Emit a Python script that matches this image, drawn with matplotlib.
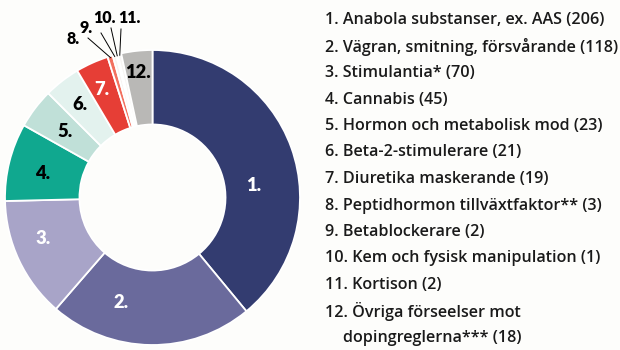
import numpy as np
import matplotlib
matplotlib.use('Agg')
import matplotlib.pyplot as plt

# dopingförseelser per kategori
categories = ['Anabola substanser, ex. AAS', 'Vägran, smitning, försvårande', 'Stimulantia*',
              'Cannabis', 'Hormon och metabolisk mod', 'Beta-2-stimulerare',
              'Diuretika maskerande', 'Peptidhormon tillväxtfaktor**', 'Betablockerare',
              'Kem och fysisk manipulation', 'Kortison', 'Övriga förseelser mot\ndopingreglerna***']
counts = [206, 118, 70, 45, 23, 21, 19, 3, 2, 1, 2, 18]
numbers = [f'{i}.' for i in range(1, len(counts) + 1)]

colors = ['#333c70', '#6a6a9c', '#a8a4c8', '#10a88f', '#c0e0d8', '#e3f2ee',
          '#e63e36', '#f2705f', '#f7f3f1', '#fbf9f8', '#f7f5f3', '#b9b8b6']
label_colors = ['white', 'white', 'white', 'black', 'black', 'black', 'white',
                'black', 'black', 'black', 'black', 'black']

bg = '#fdfdfb'
W, H = 620, 350
cx, cy, R = 152.5, 197.5, 147.5

fig = plt.figure(figsize=(6.2, 3.5), dpi=100, facecolor=bg)
ax = fig.add_axes([0, 0, 1, 1])
ax.set_facecolor(bg)
ax.axis('off')

wedges, _ = ax.pie(counts, colors=colors, startangle=90, counterclock=False, radius=1.0,
                   wedgeprops=dict(width=0.505, edgecolor='white', linewidth=1.3))
# one data unit = donut radius, origin at donut centre
ax.set_xlim(-cx / R, (W - cx) / R)
ax.set_ylim(-(H - cy) / R, cy / R)
ax.set_aspect('equal')


def px(x, y):
    return (x - cx) / R, (cy - y) / R


num_font = dict(fontsize=13.2, fontweight='heavy', family='Lato')

# numbers inside the ring
inside_pos = {0: (254, 185), 1: (121, 302), 2: (43, 238), 3: (43, 173), 4: (65, 131),
              5: (80, 104), 6: (102, 89), 11: (138, 73)}
for i, (x, y) in inside_pos.items():
    ax.text(*px(x, y), numbers[i], ha='center', va='center', color=label_colors[i], **num_font)

# small slices labelled outside with leader lines
outside_pos = {7: (73, 39), 8: (86, 28), 9: (104, 18), 10: (129, 18)}
line_start = {7: (88, 38), 8: (101, 33), 9: (111, 28), 10: (121, 29)}
for i, (x, y) in outside_pos.items():
    w = wedges[i]
    mid = np.deg2rad((w.theta1 + w.theta2) / 2)
    ex, ey = np.cos(mid) * 0.99, np.sin(mid) * 0.99
    sx, sy = px(*line_start[i])
    ax.plot([sx, ex], [sy, ey], color='black', lw=0.7)
    ax.text(*px(x, y), numbers[i], ha='center', va='center', color='black',
            fontsize=11.5, fontweight='heavy', family='Lato')

# legend list
y0, step = 20, 26.5
row = 0
for num, cat, n in zip(numbers, categories, counts):
    parts = cat.split('\n')
    for k, part in enumerate(parts):
        txt = f'{num} {part}' if k == 0 else part
        if k == len(parts) - 1:
            txt += f' ({n})'
        x0 = 325 if k == 0 else 343
        fig.text(x0 / W, 1 - (y0 + step * row) / H, txt, ha='left', va='center',
                 fontsize=11.6, fontweight='semibold', family='Open Sans', color='#1a1a1a')
        row += 1

fig.savefig('out.png', dpi=100, facecolor=bg)
